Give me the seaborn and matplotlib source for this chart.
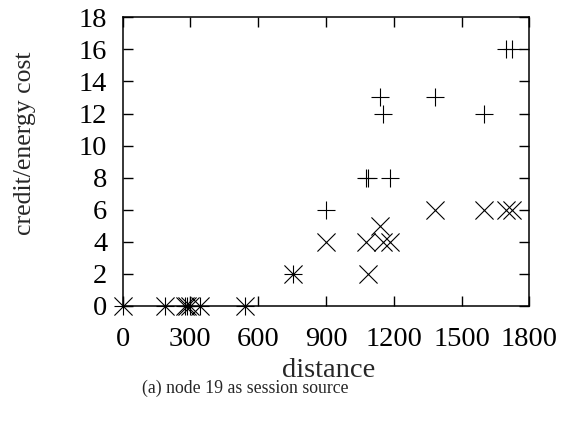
import numpy as np
import pandas as pd
import matplotlib
matplotlib.use('Agg')
import matplotlib.pyplot as plt
import seaborn as sns

## values
distance = [0, 187, 275, 285, 300, 342, 541, 752, 900, 1075, 1087,
            1139, 1150, 1185, 1382, 1597, 1695, 1725]
credit = [0, 0, 0, 0, 0, 0, 0, 2, 6, 8, 8, 13, 12, 8, 13, 12, 16, 16]
energy_cost = [0, 0, 0, 0, 0, 0, 0, 2, 4, 4, 2, 5, 4, 4, 6, 6, 6, 6]
xticks = [0, 300, 600, 900, 1200, 1500, 1800]
yticks = list(range(0, 19, 2))

df = pd.DataFrame({'distance': distance, 'credit': credit, 'energy cost': energy_cost})

sns.set_style('ticks')
plt.rcParams['font.family'] = ['Liberation Serif', 'DejaVu Serif']

fig = plt.figure(figsize=(5.65, 4.22), dpi=100)
ax = fig.add_axes([0.217, 0.275, 0.72, 0.684])

sns.scatterplot(data=df, x='distance', y='credit', marker='+', s=150,
                color='black', linewidth=0.8, ax=ax, legend=False, clip_on=False, zorder=3)
sns.scatterplot(data=df, x='distance', y='energy cost', marker='x', s=170,
                color='black', linewidth=0.8, ax=ax, legend=False, clip_on=False, zorder=3)

ax.set_xlim(0, 1800)
ax.set_ylim(0, 18)
ax.set_xticks(xticks)
ax.set_yticks(yticks)
ax.tick_params(direction='in', length=7, width=1, top=True, right=True,
               labelsize=20.5, colors='black')
ax.tick_params(axis='x', pad=15)
ax.tick_params(axis='y', pad=11)
for sp in ax.spines.values():
    sp.set_visible(True)
    sp.set_linewidth(1.1)
    sp.set_color('black')

ax.set_xlabel('')
ax.set_ylabel('')
fig.text(0.582, 0.122, 'distance', fontsize=20.5, ha='center', va='center')
fig.text(0.044, 0.66, 'credit/energy cost', fontsize=18.5, rotation=90,
         ha='center', va='center')
fig.text(0.434, 0.08, '(a) node 19 as session source', fontsize=12.8,
         ha='center', va='center')

fig.savefig('out.png', dpi=100)
